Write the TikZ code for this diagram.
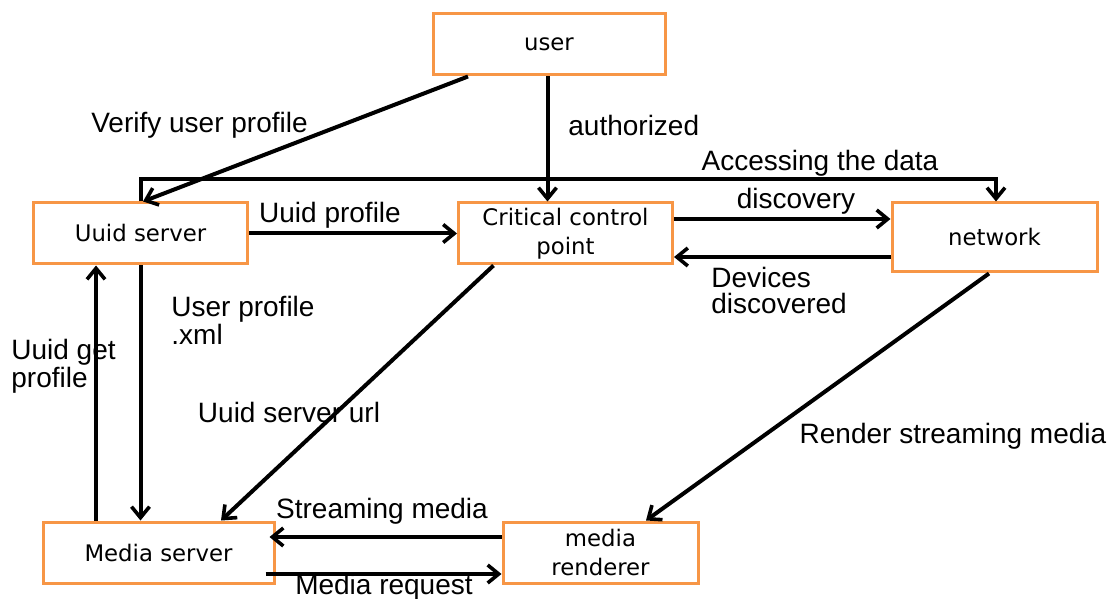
\documentclass[tikz,border=0pt]{standalone}
\usepackage{fontspec}
\setmainfont{Liberation Sans}
\newfontfamily\boxfont{DejaVu Sans}
\usetikzlibrary{arrows.meta,calc}
\definecolor{boxorange}{HTML}{F79646}
\begin{document}
\begin{tikzpicture}[x=0.5pt,y=-0.5pt,
  box/.style={draw=boxorange,line width=1.5pt,fill=white,inner sep=0pt,align=center,
    font=\boxfont\fontsize{11.4}{14.6}\selectfont},
  arr/.style={line width=2pt,-{Straight Barb[length=5.5pt,width=9pt,line width=1.8pt]}},
  lbl/.style={inner sep=0pt,font=\fontsize{14}{13}\selectfont},
]
\useasboundingbox (0,0) rectangle (1110,599);

% boxes
\node[box,minimum width=116pt,minimum height=30.5pt] (user) at (549,44.5) {user};
\node[box,minimum width=107pt,minimum height=30.5pt] (uuid) at (140.5,233.5) {Uuid server};
\node[box,minimum width=107pt,minimum height=30.5pt] (ccp) at (565.5,233.5) {Critical control\\point};
\node[box,minimum width=102.5pt,minimum height=34.5pt] (net) at (994.5,237.5) {network};
\node[box,minimum width=115.5pt,minimum height=30.5pt] (ms) at (158.5,552.5) {Media server};
\node[box,minimum width=97.5pt,minimum height=30.5pt] (mr) at (600.5,552.5) {media\\renderer};

% connectors
\draw[arr] ($(user.south)+(-81,0)$) -- ($(uuid.north)+(2.5,0)$);
\draw[arr] ($(user.south)+(-1.5,0)$) -- ($(ccp.north)+(-18,0)$);
\draw[arr,line join=miter] (uuid.north) -- ++(0,-22) -| ($(net.north)+(1.5,0)$);
\draw[arr] (uuid.east) -- (ccp.west);
\draw[arr] ($(ccp.east)+(0,-14.5)$) -- ($(net.west)+(0,-18.5)$);
\draw[arr] ($(net.west)+(0,19.5)$) -- ($(ccp.east)+(0,23.5)$);
\draw[arr] ($(ccp.south west)+(36.5,0)$) -- ($(ms.north)+(62.5,0)$);
\draw[arr] (uuid.south) -- ($(ms.north)+(-18,0)$);
\draw[arr] ($(ms.north)+(-62.5,0)$) -- ($(uuid.south)+(-44.5,0)$);
\draw[arr] ($(net.south)+(-5.5,0)$) -- ($(mr.north)+(45.5,0)$);
\draw[arr] ($(mr.west)+(0,-15.5)$) -- ($(ms.east)+(-6,-15.5)$);
\draw[arr] ($(ms.east)+(-10,21.5)$) -- ($(mr.west)+(0,21.5)$);

% connector labels
\node[lbl] (l1) at (199.5,125) {Verify user profile};
\node[lbl,anchor=west] (l2) at (568,125) {authorized};
\node[lbl] (l3) at (820,163) {Accessing the data};
\node[lbl] (l4) at (330,215) {Uuid profile};
\node[lbl] (l5) at (796,201) {discovery};
\node[lbl,anchor=west,align=left] (l6) at (711,290) {Devices\\discovered};
\node[lbl,anchor=west,align=left] (l7) at (171,320) {User profile\\.xml};
\node[lbl,anchor=west,align=left] (l8) at (11,366) {Uuid get\\profile};
\node[lbl] (l9) at (289,412) {Uuid server url};
\node[lbl] (l10) at (953,436) {Render streaming media};
\node[lbl] (l11) at (382,511) {Streaming media};
\node[lbl] (l12) at (384,587) {Media request};
\end{tikzpicture}
\end{document}
